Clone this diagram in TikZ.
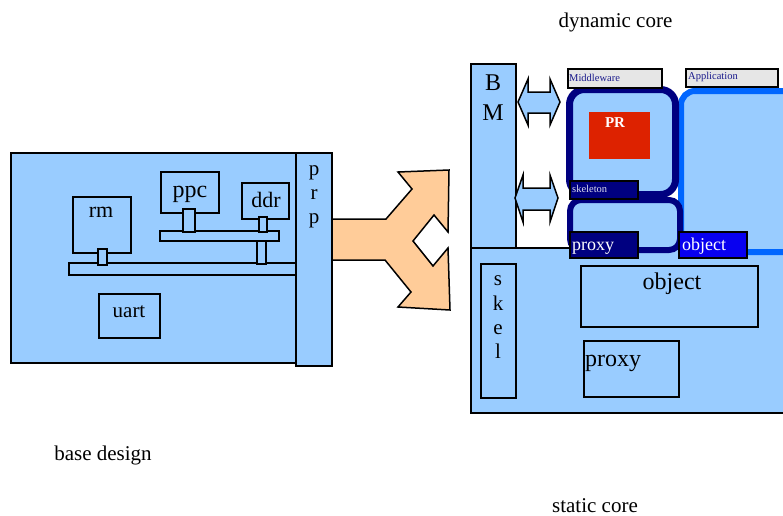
\documentclass[tikz,border=0pt]{standalone}
\usepackage{fontspec}
\setmainfont{Liberation Serif}
\definecolor{paleblue}{HTML}{99CCFF}
\definecolor{navyline}{HTML}{000080}
\definecolor{appblue}{HTML}{0066FF}
\definecolor{objblue}{HTML}{0800F0}
\definecolor{prred}{HTML}{DD2200}
\definecolor{peach}{HTML}{FFCC99}
\definecolor{taggray}{HTML}{E6E6E6}
\definecolor{tagtext}{HTML}{1A1A8C}
\definecolor{skeltext}{HTML}{DDDDEE}
\tikzset{
  blk/.style={draw=black, line width=1.6pt, fill=paleblue},
  tagbox/.style={draw=black, line width=1.5pt},
  txt/.style={inner sep=0pt, anchor=base},
  txtl/.style={inner sep=0pt, anchor=base west},
  big/.style={font=\fontsize{21}{24}\selectfont},
  mid/.style={font=\fontsize{22}{24}\selectfont},
  huge/.style={font=\fontsize{24}{26}\selectfont},
  tiny/.style={font=\fontsize{10.5}{12}\selectfont},
  dblarrow/.style={draw=black, line width=1.5pt, fill=paleblue, line join=miter},
}
\begin{document}
\begin{tikzpicture}[x=1pt, y=-1pt]
\useasboundingbox (0,0) rectangle (783,515);
\clip (0,0) rectangle (783,515);

% ---------- base design ----------
\draw[blk] (11,153) rectangle (297,363);
\draw[blk] (73,197) rectangle (131,253);   % rm
\draw[blk] (161,172) rectangle (219,213);  % ppc
\draw[blk] (242,183) rectangle (289,219);  % ddr
\draw[blk] (160,231) rectangle (279,241);  % local bus
\draw[blk] (69,263) rectangle (296,275);   % main bus
\draw[blk] (98,249) rectangle (107,265);
\draw[blk] (183,209) rectangle (195,232);
\draw[blk] (259,217) rectangle (267,232);
\draw[blk] (257,241) rectangle (266,264);
\draw[blk] (99,294) rectangle (160,338);   % uart

% split arrow towards the two cores
\draw[draw=black, line width=1.5pt, fill=peach, line join=miter]
  (330,219) -- (386,219) -- (412,189) -- (398,172) -- (449,170) -- (448,232)
  -- (434,215) -- (413,241) -- (433,266) -- (448,248) -- (450,310)
  -- (398,307) -- (411,292) -- (385,260) -- (330,260) -- cycle;

\draw[blk] (296,153) rectangle (332,366);  % prp

\node[txt, mid] (rm) at (101,217) {rm};
\node[txt, huge] (ppc) at (190,197) {ppc};
\node[txt, mid] (ddr) at (266,207) {ddr};
\node[txt, big] (uart) at (129,317) {uart};
\node[txt, big] (prp1) at (314,175) {p};
\node[txt, big] (prp2) at (314,199) {r};
\node[txt, big] (prp3) at (314,223) {p};
\node[txt, big] (base) at (103,460) {base design};

% ---------- static core ----------
\draw[blk] (471,248) rectangle (810,413);
\draw[blk] (471,64) rectangle (516,248);   % BM
\draw[blk] (481,264) rectangle (516,398);  % skel
\draw[blk] (581,266) rectangle (758,327);  % object
\draw[blk] (584,341) rectangle (679,397);  % proxy

\node[txt, huge] (bmB) at (493,90) {B};
\node[txt, huge] (bmM) at (493,120) {M};
\node[txt, big] (sk1) at (498,285) {s};
\node[txt, big] (sk2) at (498,310) {k};
\node[txt, big] (sk3) at (498,334) {e};
\node[txt, big] (sk4) at (498,358) {l};
\node[txt, huge] (sobj) at (672,289) {object};
\node[txt, huge, anchor=base west] (sprox) at (585,366) {proxy};
\node[txt, big] (static) at (595,512) {static core};

% ---------- bus arrows between BM and the dynamic core ----------
\draw[dblarrow] (518,102) -- (528,79) -- (528,92) -- (550,92) -- (550,79)
  -- (560,102) -- (550,125) -- (550,113) -- (528,113) -- (528,125) -- cycle;
\draw[dblarrow] (515,198) -- (523,175) -- (523,188) -- (550,188) -- (550,175)
  -- (558,198) -- (550,222) -- (550,210) -- (523,210) -- (523,222) -- cycle;

% ---------- dynamic core ----------
\draw[draw=appblue, line width=6pt, fill=paleblue, rounded corners=14pt]
  (681,91) rectangle (820,252);
\draw[draw=navyline, line width=6pt, fill=paleblue, rounded corners=11pt]
  (570,200) rectangle (680,250);
\draw[draw=navyline, line width=7pt, fill=paleblue, rounded corners=15pt]
  (569.5,89.5) rectangle (675.5,194.5);

\draw[tagbox, fill=taggray] (568,69) rectangle (662,88);
\draw[tagbox, fill=taggray] (686,69) rectangle (778,87);
\fill[prred] (589,112) rectangle (650,159);
\draw[tagbox, fill=navyline] (570,181) rectangle (638,199);
\draw[tagbox, fill=navyline] (570,232) rectangle (638,258);
\draw[tagbox, fill=objblue] (679,232) rectangle (747,258);

\node[txtl, tiny, text=tagtext] (mw) at (569,81) {Middleware};
\node[txtl, tiny, text=tagtext] (app) at (688,79) {Application};
\node[txt, text=white, font=\fontsize{15}{17}\selectfont\bfseries] (pr) at (615,127) {PR};
\node[txtl, tiny, text=skeltext] (skl) at (572,192) {skeleton};
\node[txtl, text=white, font=\fontsize{18}{20}\selectfont] (dprox) at (572,250) {proxy};
\node[txtl, text=white, font=\fontsize{18}{20}\selectfont] (dobj) at (682,250) {object};
\node[txt, big] (dyn) at (615.5,27) {dynamic core};
\end{tikzpicture}
\end{document}
